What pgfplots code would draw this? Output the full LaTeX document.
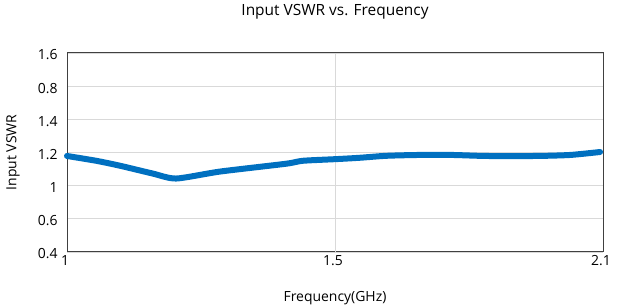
\documentclass[border=0pt]{standalone}
\usepackage{fontspec}
\setmainfont{Open Sans}
\usepackage{pgfplots}
\pgfplotsset{compat=1.18}
\definecolor{vswr}{RGB}{0,112,192}
\definecolor{gridc}{RGB}{217,217,217}
\definecolor{axc}{RGB}{64,64,64}
\begin{document}
\begin{tikzpicture}
\begin{axis}[
  name=ax,
  scale only axis,
  width=536bp, height=199bp,
  xmin=1, xmax=2.1, ymin=0, ymax=6,
  xtick={1,1.55,2.1}, xticklabels={1,1.5,2.1},
  ytick={0,1,2,3,4,5,6},
  yticklabels={0.4,0.6,1,1.2,1.4,0.8,1.6},
  ymajorgrids, xmajorgrids=false,
  extra x ticks={1.55}, extra x tick labels={},
  extra x tick style={grid=major, major grid style={gridc, line width=0.9pt}},
  major grid style={gridc, line width=0.9pt},
  axis line style={axc, line width=1pt},
  tick style={draw=none},
  tick label style={font=\fontsize{14}{16}\selectfont},
  xticklabel style={anchor=north, xshift=-2bp, yshift=0bp},
  yticklabel style={anchor=east, xshift=-6bp, yshift=-2bp},
  /pgf/number format/assume math mode=true,
  title={Input VSWR vs. Frequency},
  title style={font=\fontsize{15.5}{18}\selectfont, at={(axis description cs:0.5,1)}, anchor=center, yshift=35bp},
  xlabel={Frequency(GHz)},
  xlabel style={font=\fontsize{14}{16}\selectfont, at={(axis description cs:0.5,0)}, anchor=center, yshift=-46bp},
  ylabel={Input VSWR},
  ylabel style={font=\fontsize{14}{16}\selectfont, at={(axis description cs:0,0.5)}, anchor=center, yshift=54bp},
  clip=false,
]
\addplot[vswr, line width=6bp, smooth, tension=0.4, line cap=round] table[y expr={(\thisrow{y}-1)*5+2}] {
x y
1.000 1.179
1.060 1.150
1.109 1.120
1.176 1.073
1.224 1.043
1.314 1.085
1.449 1.132
1.484 1.150
1.552 1.160
1.600 1.168
1.655 1.180
1.720 1.185
1.792 1.185
1.860 1.179
1.962 1.179
2.032 1.185
2.094 1.203
};
\end{axis}
\pgfresetboundingbox
\path[use as bounding box] ([shift={(-67bp,-55bp)}]ax.south west) rectangle ([shift={(15bp,53bp)}]ax.north east);
\end{tikzpicture}
\end{document}
